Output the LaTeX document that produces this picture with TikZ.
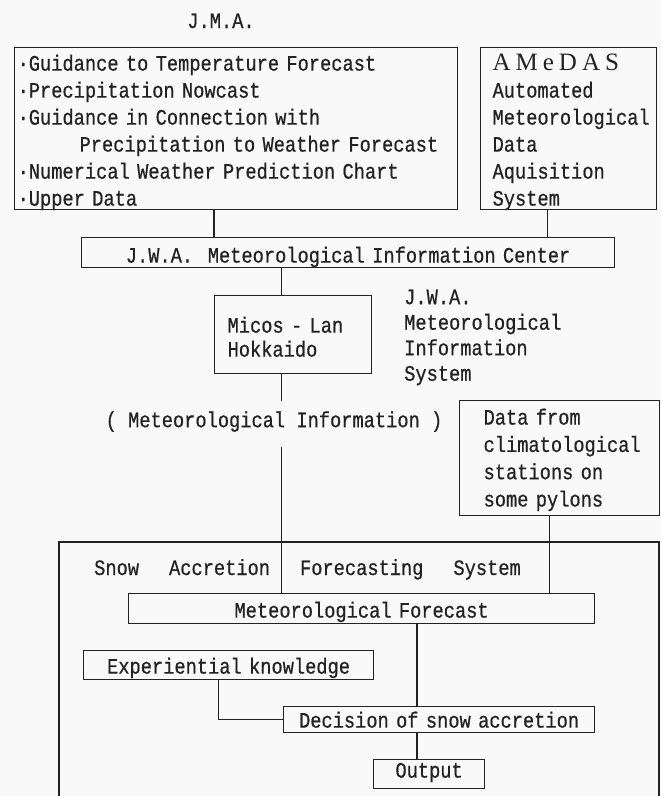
\documentclass[tikz,border=0pt]{standalone}
\usepackage{fontspec}
\setmainfont[FakeStretch=0.85, FakeBold=0.6]{Liberation Mono}
\newfontfamily\amedasfont{Liberation Serif}
\definecolor{paper}{RGB}{248,249,248}
\definecolor{ink}{RGB}{34,34,34}
\tikzset{
  box/.style={draw=ink, line width=1.2pt, inner ysep=0pt, anchor=north west},
  txt/.style={font=\fontsize{22}{27}\selectfont},
  ln/.style={draw=ink, line width=1.1pt},
}
\begin{document}
\begin{tikzpicture}[x=1pt,y=-1pt,txt,every node/.style={text=ink}]
  \useasboundingbox (0,0) rectangle (661,796);
  \fill[paper] (0,0) rectangle (661,796);
  % sources
  \node[anchor=base] (jmalbl) at (221,28) {J.M.A.};
  \node[box, inner xsep=3pt, text width=437pt, align=left, text height=23pt, text depth=139pt] (jma) at (14,47)
    {·Guidance to Temperature Forecast\\ ·Precipitation Nowcast\\ ·Guidance in Connection with\\ \hspace*{62pt}Precipitation to Weather Forecast\\ ·Numerical Weather Prediction Chart\\ ·Upper Data};
  \node[box, inner xsep=12pt, text width=152pt, align=left, text height=23pt, text depth=139pt] (amedas) at (480,47)
    {{\amedasfont\fontsize{25}{27}\selectfont A\kern5pt M\kern5pt e\kern5pt D\kern5pt A\kern5pt S}\\ Automated\\ Meteorological\\ Data\\ Aquisition\\ System};
  \node[box, inner xsep=0pt, text width=533pt, align=center, text height=25pt, text depth=5pt] (jwac) at (81,237)
    {J.W.A.~~Meteorological Information Center};
  \node[box, inner xsep=13pt, text width=131pt, align=left, text height=37pt, text depth=41pt, font=\fontsize{22}{24}\selectfont] (micos) at (214,295)
    {Micos - Lan\\ Hokkaido};
  \node[inner sep=0pt, anchor=north west, text width=170pt, align=left, text height=20pt, font=\fontsize{22}{25.5}\selectfont] (jwamis) at (404,284)
    {J.W.A.\\ Meteorological\\ Information\\ System};
  \node[inner sep=0pt, anchor=north, text height=26pt, text depth=20pt] (metinfo) at (274,401) {( Meteorological Information )};
  \node[box, inner xsep=24pt, text width=152pt, align=left, text height=24pt, text depth=91pt, font=\fontsize{22}{27.3}\selectfont] (data) at (459,400)
    {Data from\\ climatological\\ stations on\\ some pylons};
  % forecasting system
  \draw[draw=ink, line width=2pt] (59,796) |- (659,542) -- (659,796);
  \node[anchor=base west, inner sep=0pt] (systitle) at (94,575)
    {Snow\hspace{30pt}Accretion\hspace{30pt}Forecasting\hspace{30pt}System};
  \node[box, inner xsep=0pt, text width=466pt, align=center, text height=24pt, text depth=6pt] (fcst) at (128,593) {Meteorological Forecast};
  \node[box, inner xsep=0pt, text width=290pt, align=center, text height=23pt, text depth=6pt] (exp) at (83,650) {Experiential knowledge};
  \node[box, inner xsep=0pt, text width=311pt, align=center, text height=21pt, text depth=5pt] (dec) at (283,706) {Decision of snow accretion};
  \node[box, inner xsep=0pt, text width=111pt, align=center, text height=18pt, text depth=11pt] (out) at (373,759) {Output};
  % connectors
  \coordinate (trunk) at (281.5,0);
  \coordinate (fcol) at (417,0);
  \coordinate (amout) at ([xshift=-21pt]amedas.south);
  \coordinate (dataout) at ([xshift=-10.5pt]data.south);
  \draw[ln] (jma.south -| micos.west) -- (jwac.north -| micos.west);
  \draw[ln] (amout) -- (amout |- jwac.north);
  \draw[ln] (jwac.south -| trunk) -- (micos.north -| trunk);
  \draw[ln] (micos.south -| trunk) -- (metinfo.north -| trunk);
  \draw[ln] (metinfo.south -| trunk) -- (fcst.north -| trunk);
  \draw[ln] (dataout) -- (dataout |- fcst.north);
  \draw[ln] (fcst.south -| fcol) -- (dec.north -| fcol);
  \draw[ln] (dec.south -| fcol) -- (out.north -| fcol);
  \draw[ln] ([xshift=-10pt]exp.south) |- (dec.west);
\end{tikzpicture}
\end{document}
